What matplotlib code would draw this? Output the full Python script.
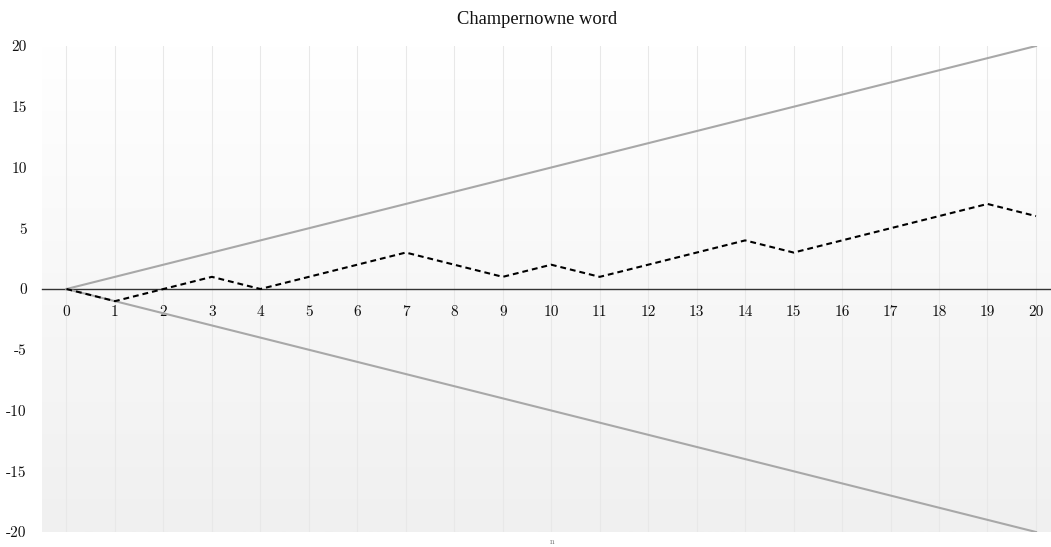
import numpy as np
import matplotlib
matplotlib.use("Agg")
import matplotlib.pyplot as plt
from matplotlib.colors import LinearSegmentedColormap

# ---- data ----
n_values = [0, 1, 2, 3, 4, 5, 6, 7, 8, 9, 10, 11, 12, 13, 14, 15, 16, 17, 18, 19, 20]
walk = [0, -1, 0, 1, 0, 1, 2, 3, 2, 1, 2, 1, 2, 3, 4, 3, 4, 5, 6, 7, 6]
upper_bound = [0, 1, 2, 3, 4, 5, 6, 7, 8, 9, 10, 11, 12, 13, 14, 15, 16, 17, 18, 19, 20]
lower_bound = [0, -1, -2, -3, -4, -5, -6, -7, -8, -9, -10, -11, -12, -13, -14, -15, -16, -17, -18, -19, -20]
y_ticks = [-20, -15, -10, -5, 0, 5, 10, 15, 20]
title = "Champernowne word"
x_label = "n"

W, H = 1051, 547
fig = plt.figure(figsize=(W / 100, H / 100), dpi=100)
ax = fig.add_axes([42 / W, (H - 532) / H, 1 - 42 / W, (532 - 46) / H])

xlim = (-0.505, 20.31)
ylim = (-20, 20)

# gradient background: white at top, light grey at bottom
cmap = LinearSegmentedColormap.from_list("bg", ["#ffffff", "#f0f0f0"])
grad = np.linspace(0, 1, 256).reshape(-1, 1)
ax.imshow(grad, extent=[xlim[0], xlim[1], ylim[0], ylim[1]], aspect="auto",
          cmap=cmap, origin="upper", zorder=0)

# vertical grid lines
for x in n_values:
    ax.axvline(x, color="#e8e8e8", lw=0.75, zorder=1)

ax.plot(n_values, upper_bound, color="#a8a8a8", lw=1.5, zorder=3)
ax.plot(n_values, lower_bound, color="#a8a8a8", lw=1.5, zorder=3)
ax.plot(n_values, walk, color="black", lw=1.5, linestyle=(0, (2.8, 1.9)), zorder=4)

ax.set_xlim(*xlim)
ax.set_ylim(*ylim)

for s in ["top", "right", "left"]:
    ax.spines[s].set_visible(False)
ax.spines["bottom"].set_position(("data", 0))
ax.spines["bottom"].set_color("#333333")
ax.spines["bottom"].set_linewidth(1.0)
ax.spines["bottom"].set_zorder(2)

ax.set_xticks(n_values)
ax.set_xticklabels([str(v) for v in n_values], family="cmr10", fontsize=11)
ax.set_yticks(y_ticks)
ax.set_yticklabels([str(v) for v in y_ticks], family="cmr10", fontsize=11)
ax.tick_params(axis="x", length=0, pad=12, colors="#111111")
ax.tick_params(axis="y", length=0, pad=11, colors="#111111")

fig.text(537 / W, 1 - 19 / H, title, family="Liberation Serif", fontsize=13.3,
         ha="center", va="center", color="#111111")
fig.text(552 / W, 1 - 542 / H, x_label, family="cmr10", fontsize=6,
         ha="center", va="center", color="#777777")

fig.savefig("out.png", dpi=100)
